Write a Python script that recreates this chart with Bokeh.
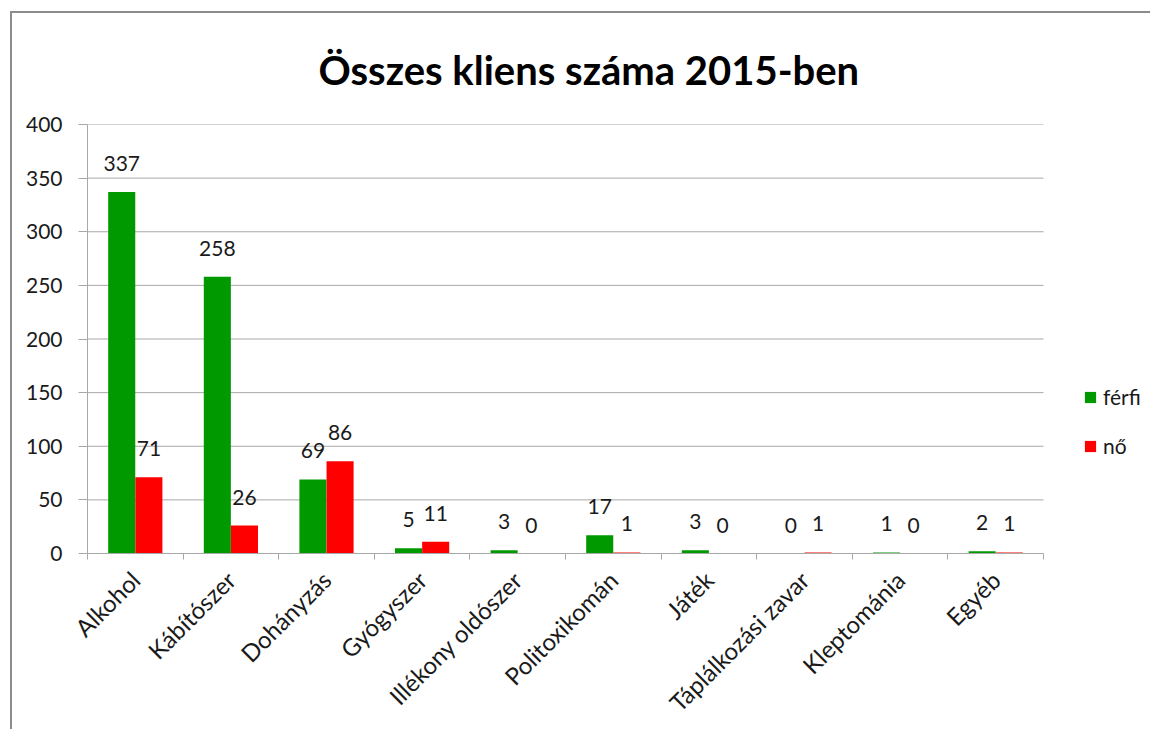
import math
from bokeh.plotting import figure
from bokeh.models import (Range1d, LinearAxis, FixedTicker, Legend, LegendItem,
                          ColumnDataSource, Title)
from bokeh.core.properties import value
from bokeh.embed import file_html
from bokeh.resources import INLINE

categories = ["Alkohol", "Kábítószer", "Dohányzás", "Gyógyszer", "Illékony oldószer",
              "Politoxikomán", "Játék", "Táplálkozási zavar", "Kleptománia", "Egyéb"]
ferfi = [337, 258, 69, 5, 3, 17, 3, 0, 1, 2]
no = [71, 26, 86, 11, 0, 1, 0, 1, 0, 1]
series_names = ["férfi", "nő"]
y_ticks = [0, 50, 100, 150, 200, 250, 300, 350, 400]
title_text = "Összes kliens száma 2015-ben"

FONT = "Lato"
GREEN = "#009900"
RED = "#ff0000"
GRID = "#a8a8a8"
TXT = "#1a1a1a"
FS = "21px"

n = len(categories)
centers = [i + 0.5 for i in range(n)]
off = 0.142
bw = 0.283

W, H = 1140, 718
LEFT, TOP, BOTTOM = 75, 111, 178
px_per_cat = 95.6
x_max = (W - LEFT) / px_per_cat

p = figure(width=W, height=H, output_backend="svg", toolbar_location=None,
           x_range=Range1d(0, x_max), y_range=Range1d(0, 400),
           x_axis_type=None, y_axis_type=None,
           min_border_left=LEFT, min_border_right=0, min_border_top=TOP, min_border_bottom=BOTTOM)
p.styles = {"border-left": "2px solid #8c8c8c", "border-top": "2px solid #8c8c8c",
            "margin-left": "10px", "margin-top": "11px"}
p.outline_line_color = None
p.background_fill_color = "white"
p.border_fill_color = "white"

t = Title(text=title_text, align="left", text_font=FONT, text_font_size="40px",
          text_font_style="bold", text_color="black", offset=231, standoff=61)
p.add_layout(t, "above")

yax = LinearAxis(ticker=FixedTicker(ticks=y_ticks), major_tick_out=9, major_tick_in=0,
                 minor_tick_line_color=None, major_label_standoff=16,
                 axis_line_color=GRID, major_tick_line_color=GRID,
                 major_label_text_font=FONT, major_label_text_font_size=FS,
                 major_label_text_color=TXT)
p.add_layout(yax, "left")

xax_ticks = LinearAxis(ticker=FixedTicker(ticks=list(range(n + 1))), bounds=(0, n),
                       major_tick_out=6, major_tick_in=0, minor_tick_line_color=None,
                       axis_line_color=GRID, major_tick_line_color=GRID,
                       major_label_text_font_size="0px", major_label_standoff=0,
                       major_label_overrides={i: "" for i in range(n + 1)})
p.add_layout(xax_ticks, "below")

xax_lab = LinearAxis(ticker=FixedTicker(ticks=centers), major_tick_out=0, major_tick_in=0,
                     minor_tick_line_color=None, axis_line_color=None,
                     major_tick_line_color=None,
                     major_label_overrides={c: name for c, name in zip(centers, categories)},
                     major_label_orientation=math.pi / 4, major_label_standoff=16,
                     major_label_text_font=FONT, major_label_text_font_size="24px",
                     major_label_text_color=TXT)
p.add_layout(xax_lab, "below")

gy = y_ticks[1:]
p.segment(x0=[0] * len(gy), x1=[n] * len(gy), y0=gy, y1=gy, line_color=GRID, line_width=1)

src = ColumnDataSource(dict(
    xg=[c - off for c in centers], xr=[c + off for c in centers],
    ferfi=ferfi, no=no,
    lf=[str(v) for v in ferfi], ln=[str(v) for v in no]))

rg = p.vbar(x="xg", top="ferfi", width=bw, source=src, fill_color=GREEN, line_color=None)
rr = p.vbar(x="xr", top="no", width=bw, source=src, fill_color=RED, line_color=None)

p.text(x="xg", y="ferfi", text="lf", source=src, text_align="center", text_baseline="bottom",
       y_offset=-21, text_font=value(FONT), text_font_size=FS, text_color=TXT)
p.text(x="xr", y="no", text="ln", source=src, text_align="center", text_baseline="bottom",
       y_offset=-21, text_font=value(FONT), text_font_size=FS, text_color=TXT)

legend = Legend(items=[LegendItem(label=series_names[0], renderers=[rg]),
                       LegendItem(label=series_names[1], renderers=[rr])],
                location=(996, 95), padding=0, margin=0, border_line_color=None,
                background_fill_alpha=0, glyph_width=14, glyph_height=14,
                label_height=20, spacing=24, label_standoff=6,
                label_text_font=FONT, label_text_font_size=FS, label_text_color=TXT)
p.add_layout(legend)

open("out.html", "w").write(file_html(p, INLINE))
